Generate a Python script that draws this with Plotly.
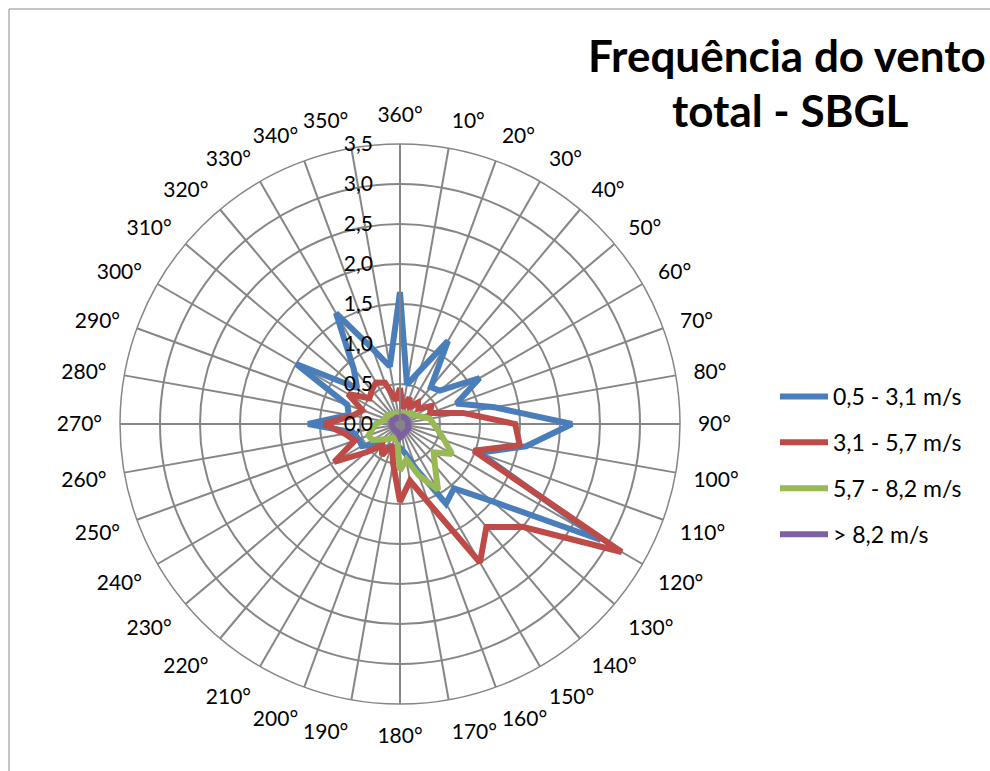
import plotly.graph_objects as go

# Wind direction sectors (degrees, clockwise from north)
directions = list(range(0, 360, 10))
direction_labels = ["360°"] + [f"{d}°" for d in range(10, 360, 10)]

# Frequency (%) per speed class, one value per sector: 360°, 10°, ..., 350°
freq_05_31 = [1.65, 0.5, 0.7, 1.2, 0.6, 0.65, 1.15, 0.75, 1.2, 2.15,
              1.6, 1.05, 2.9, 1.5, 1.05, 1.15, 0.6, 0.37, 0.3, 0.3,
              0.3, 0.35, 0.35, 0.4, 0.55, 0.55, 0.6, 1.15, 0.65, 0.7,
              1.5, 0.7, 0.9, 1.6, 1.0, 0.73]
freq_31_57 = [0.45, 0.2, 0.35, 0.25, 0.35, 0.3, 0.45, 0.4, 0.8, 1.44,
              1.52, 0.98, 3.2, 2.0, 1.68, 2.0, 1.05, 0.72, 0.97, 0.5,
              0.28, 0.45, 0.35, 0.55, 0.95, 0.6, 0.7, 0.95, 0.6, 0.5,
              0.75, 0.5, 0.55, 0.6, 0.55, 0.3]
freq_57_82 = [0.13, 0.13, 0.14, 0.15, 0.17, 0.2, 0.22, 0.28, 0.38, 0.42,
              0.49, 0.59, 0.75, 0.55, 0.68, 0.95, 0.68, 0.45, 0.58, 0.2,
              0.2, 0.2, 0.25, 0.3, 0.4, 0.42, 0.35, 0.3, 0.22, 0.2,
              0.2, 0.18, 0.16, 0.15, 0.14, 0.13]
freq_82 = [0.08, 0.09, 0.1, 0.1, 0.1, 0.1, 0.1, 0.1, 0.1, 0.1,
           0.1, 0.11, 0.12, 0.12, 0.12, 0.12, 0.13, 0.15, 0.17, 0.12,
           0.1, 0.1, 0.1, 0.1, 0.1, 0.1, 0.1, 0.1, 0.1, 0.1,
           0.1, 0.09, 0.09, 0.09, 0.08, 0.08]

series_names = ["0,5 - 3,1 m/s", "3,1 - 5,7 m/s", "5,7 - 8,2 m/s", "> 8,2 m/s"]
series_colors = ["#4A7EBB", "#BE4B48", "#98B954", "#7D60A0"]
series_values = [freq_05_31, freq_31_57, freq_57_82, freq_82]

radial_ticks = [0, 0.5, 1.0, 1.5, 2.0, 2.5, 3.0, 3.5]

FONT = "Lato"
W, H = 990, 771
cx, cy, R = 400, 424, 280  # polar centre and outer radius in pixels

fig = go.Figure()
for name, color, vals in zip(series_names, series_colors, series_values):
    fig.add_trace(go.Scatterpolar(
        r=vals + vals[:1],
        theta=directions + directions[:1],
        mode="lines",
        name=name,
        legendgroup=name,
        line=dict(color=color, width=6, shape="linear"),
        hoverinfo="skip",
    ))

grid = "#868686"
fig.update_layout(
    width=W, height=H,
    margin=dict(l=0, r=0, t=0, b=0),
    paper_bgcolor="white",
    separators=",.",
    font=dict(family=FONT, size=21, color="black"),
    polar=dict(
        domain=dict(x=[(cx - R) / W, (cx + R) / W],
                    y=[(H - cy - R) / H, (H - cy + R) / H]),
        bgcolor="white",
        gridshape="linear",
        angularaxis=dict(
            rotation=90, direction="clockwise",
            tickmode="array", tickvals=directions, ticktext=direction_labels,
            showgrid=True, gridcolor=grid, gridwidth=1.5,
            showline=True, linecolor=grid, linewidth=1.5,
            ticks="outside", ticklen=13, tickcolor="rgba(0,0,0,0)",
            tickfont=dict(family=FONT, size=21, color="black"),
        ),
        radialaxis=dict(
            range=[0, 3.5], tickmode="array", tickvals=radial_ticks,
            tickformat=".1f", angle=90, tickangle=90, side="counterclockwise",
            showgrid=True, gridcolor=grid, gridwidth=1.5,
            showline=True, linecolor=grid, linewidth=1.5,
            ticks="outside", ticklen=19, tickcolor="rgba(0,0,0,0)",
            tickfont=dict(family=FONT, size=21, color="black"),
        ),
    ),
    legend=dict(
        x=775 / W, y=(H - 375) / H, xanchor="left", yanchor="top",
        font=dict(family=FONT, size=23, color="black"),
        tracegroupgap=13, itemwidth=48, bgcolor="rgba(0,0,0,0)",
    ),
    showlegend=True,
)

# Chart title (two lines)
fig.add_annotation(text="<b>Frequência do vento</b>", x=787 / W, y=1 - 55 / H,
                   xref="paper", yref="paper", showarrow=False,
                   xanchor="center", yanchor="middle",
                   font=dict(family=FONT, size=44, color="black"))
fig.add_annotation(text="<b>total - SBGL</b>", x=790 / W, y=1 - 110 / H,
                   xref="paper", yref="paper", showarrow=False,
                   xanchor="center", yanchor="middle",
                   font=dict(family=FONT, size=44, color="black"))

# Chart area border
fig.add_shape(type="rect", xref="paper", yref="paper",
              x0=9 / W, x1=1.02, y0=-0.02, y1=1 - 9 / H,
              line=dict(color="#8c8c8c", width=1), fillcolor="rgba(0,0,0,0)")

fig.write_html("out.html")
